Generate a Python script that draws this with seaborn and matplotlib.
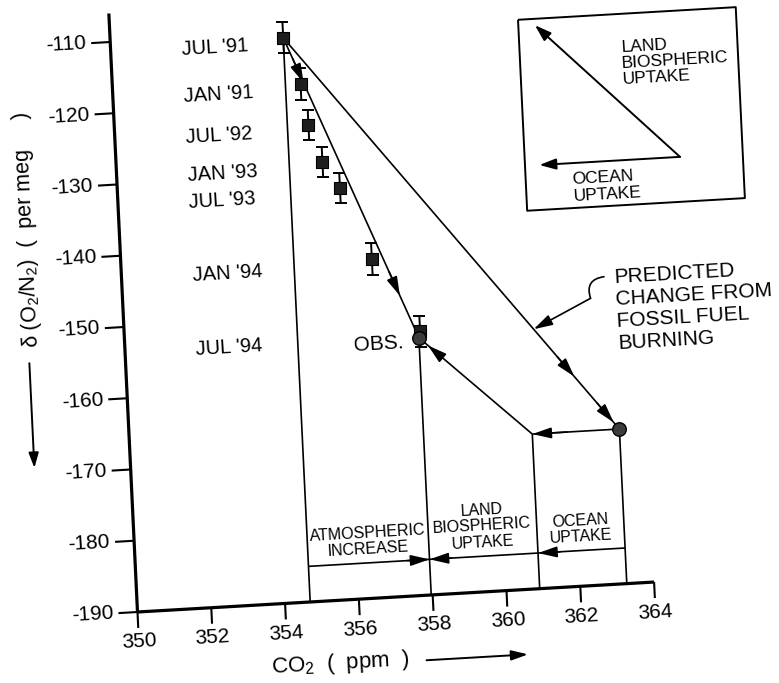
import numpy as np
import pandas as pd
import matplotlib
matplotlib.use("Agg")
import matplotlib.pyplot as plt
from matplotlib.transforms import Affine2D
import seaborn as sns

# ---------------------------------------------------------------- data
months = ["JUL '91", "JAN '91", "JUL '92", "JAN '93", "JUL '93", "JAN '94", "JUL '94"]
co2_ppm = [354.68, 355.09, 355.25, 355.58, 356.02, 356.79, 358.00]
o2n2_per_meg = [-110.8, -117.4, -123.2, -128.5, -132.3, -142.5, -153.0]
o2n2_err = [2.2, 2.2, 2.1, 2.1, 2.1, 2.2, 2.2]

obs_co2, obs_o2n2 = 357.96, -153.9        # observed end point
pred_co2, pred_o2n2 = 363.26, -168.3      # predicted from fossil fuel burning
ocean_co2 = 360.90                        # after ocean uptake
bracket_o2n2 = -185.0                     # level of the budget brackets

x_ticks = [350, 352, 354, 356, 358, 360, 362, 364]
y_ticks = [-110, -120, -130, -140, -150, -160, -170, -180, -190]

budget_labels = ["ATMOSPHERIC\nINCREASE", "LAND\nBIOSPHERIC\nUPTAKE", "OCEAN\nUPTAKE"]

# ---------------------------------------------------------------- style
sns.set_theme(style="white")
plt.rcParams["font.family"] = ["Liberation Sans", "DejaVu Sans"]
plt.rcParams["mathtext.fontset"] = "custom"
plt.rcParams["mathtext.rm"] = "Liberation Sans"
plt.rcParams["mathtext.it"] = "Liberation Sans:italic"
plt.rcParams["mathtext.bf"] = "Liberation Sans:bold"

W, H, DPI = 779, 683, 100
fig = plt.figure(figsize=(W / DPI, H / DPI), dpi=DPI)
ax = fig.add_axes([0, 0, 1, 1])
ax.axis("off")

XLIM = (346.274, 367.385)
YLIM = (-199.965, -104.105)
ax.set_xlim(*XLIM)
ax.set_ylim(*YLIM)

# the whole drawing sits slightly tilted on the page
ox, oy = 137.5, 71.0
tilt = (Affine2D().translate(-ox, -oy)
        + Affine2D.from_values(1.0, 0.05799, -0.04786, 1.0, 0, 0)
        + Affine2D().translate(ox, oy))
T = ax.transData + tilt
TEXT_ROT = 3.3

px_x = 36.9     # pixels per ppm
px_y = 7.125    # pixels per meg


def seg(xs, ys, lw=1.2, **kw):
    ax.plot(xs, ys, color="black", lw=lw, transform=T, clip_on=False,
            solid_capstyle="butt", **kw)


def arrow(tail, tip, lw=1.2, hl=1.15, hw=0.33, ms=10):
    ax.annotate("", xy=tip, xytext=tail, xycoords=T, textcoords=T,
                annotation_clip=False,
                arrowprops=dict(arrowstyle=f"-|>,head_length={hl},head_width={hw}",
                                color="black", lw=lw, shrinkA=0, shrinkB=0,
                                mutation_scale=ms))


def along(p0, p1, f):
    p0 = np.asarray(p0, float)
    p1 = np.asarray(p1, float)
    return tuple(p0 + f * (p1 - p0))


def label(x, y, s, size=14.5, ha="left", va="center", rot=TEXT_ROT, **kw):
    ax.text(x, y, s, transform=T, fontsize=size, ha=ha, va=va, rotation=rot,
            rotation_mode="anchor", color="black", clip_on=False, **kw)


# ---------------------------------------------------------------- axes
x0, y0 = x_ticks[0], y_ticks[-1]
seg([x0, x0], [y0, -106.0], lw=2.3)
seg([x0, x_ticks[-1]], [y0, y0], lw=2.3)
for yv in y_ticks:
    seg([x0 - 19 / px_x, x0], [yv, yv], lw=1.5)
    label(x0 - 24 / px_x, yv, str(yv), size=15, ha="right")
for xv in x_ticks:
    seg([xv, xv], [y0, y0 - 16 / px_y], lw=1.5)
    label(xv, y0 - 30 / px_y, str(xv), size=15, ha="center")

label(355.41, -198.9, "CO$_2$  (  ppm  )", size=16, ha="center")
arrow((357.75, -199.1), (360.5, -199.1), lw=1.4, hl=1.0, hw=0.3)
label(347.5, -135.5, "δ (O$_2$/N$_2$)  (  per meg     )", size=15.5,
      ha="center", rot=90 + 2.7)
arrow((347.4, -154.3), (347.4, -169.0), lw=1.4, hl=0.9, hw=0.3)

# ---------------------------------------------------------------- budget lines
start = (co2_ppm[0], o2n2_per_meg[0])
obs = (obs_co2, obs_o2n2)
pred = (pred_co2, pred_o2n2)
corner = (ocean_co2, pred_o2n2)

# observed path
seg([start[0], obs[0]], [start[1], obs[1]])
for f in (0.15, 0.86):
    arrow(along(start, obs, f - 0.08), along(start, obs, f))

# predicted fossil-fuel path
seg([start[0], pred[0]], [start[1], pred[1]])
for f in (0.866, 0.983):
    arrow(along(start, pred, f - 0.05), along(start, pred, f))

# ocean then land uptake
seg([pred[0], corner[0]], [pred[1], corner[1]])
arrow(along(pred, corner, 0.6), corner)
seg([corner[0], obs[0]], [corner[1], obs[1]])
arrow(along(corner, obs, 0.80), along(corner, obs, 0.92))

# drop lines and brackets
for xv, yv in (start, obs, corner, pred):
    seg([xv, xv], [yv, y0])
seg([start[0], pred[0]], [bracket_o2n2, bracket_o2n2])
arrow((obs[0] - 0.6, bracket_o2n2), (obs[0], bracket_o2n2))
arrow((obs[0] + 0.6, bracket_o2n2), (obs[0], bracket_o2n2))
arrow((corner[0] + 0.6, bracket_o2n2), (corner[0], bracket_o2n2))

edges = [start[0], obs[0], corner[0], pred[0]]
for i, txt in enumerate(budget_labels):
    label((edges[i] + edges[i + 1]) / 2, bracket_o2n2 + 0.9, txt, size=11.5,
          ha="center", va="bottom", linespacing=1.1, multialignment="center")

# ---------------------------------------------------------------- data points
df = pd.DataFrame({"co2": co2_ppm, "o2n2": o2n2_per_meg, "month": months})
eb = ax.errorbar(df["co2"], df["o2n2"], yerr=o2n2_err, fmt="none",
                 ecolor="black", elinewidth=1.4, capsize=4.5, capthick=1.4,
                 zorder=4)
for cl in eb.lines[1]:
    cl.set_transform(T)
    cl.set_clip_on(False)
for bc in eb.lines[2]:
    bc.set_transform(T)
    bc.set_clip_on(False)

n0 = len(ax.collections)
sns.scatterplot(data=df, x="co2", y="o2n2", marker="s", s=70, color="#1e1e1e",
                edgecolor="black", linewidth=0.8, ax=ax, legend=False, zorder=5)
ends = pd.DataFrame({"co2": [obs_co2, pred_co2], "o2n2": [obs_o2n2, pred_o2n2]})
sns.scatterplot(data=ends, x="co2", y="o2n2", marker="o", s=95, color="#3c3c3c",
                edgecolor="black", linewidth=1.0, ax=ax, legend=False, zorder=6)
for coll in ax.collections[n0:]:
    coll.set_offset_transform(T)
    coll.set_clip_on(False)
ax.set_xlim(*XLIM)
ax.set_ylim(*YLIM)
ax.axis("off")

for m, yv in zip(months, o2n2_per_meg):
    label(351.92, yv - 0.8, m, size=14.5)
label(obs_co2 - 0.43, obs_o2n2 - 0.6, "OBS.", size=15, ha="right")

# ---------------------------------------------------------------- annotation
label(363.32, -151.73, "PREDICTED\nCHANGE FROM\nFOSSIL FUEL\nBURNING", size=15,
      linespacing=1.2)
ax.annotate("", xy=(362.65, -149.77), xytext=(363.04, -146.86), xycoords=T,
            textcoords=T, annotation_clip=False,
            arrowprops=dict(arrowstyle="-", color="black", lw=1.2,
                            shrinkA=0, shrinkB=0,
                            connectionstyle="arc3,rad=0.6"))
arrow((362.65, -149.77), along(start, pred, 0.745))

# ---------------------------------------------------------------- inset key
bx = [361.05, 366.95, 366.95, 361.05, 361.05]
by = [-110.2, -110.2, -137.0, -137.0, -110.2]
seg(bx, by, lw=1.4)
arrow((365.25, -130.7), (361.50, -111.1), lw=1.4, hl=1.0, hw=0.33)
arrow((365.25, -130.7), (361.44, -130.7), lw=1.4, hl=1.0, hw=0.33)
label(363.80, -117.13, "LAND\nBIOSPHERIC\nUPTAKE", size=12.5, linespacing=1.1)
label(362.31, -134.19, "OCEAN\nUPTAKE", size=12.5, linespacing=1.25)

fig.savefig("out.png", dpi=DPI, facecolor="white")
